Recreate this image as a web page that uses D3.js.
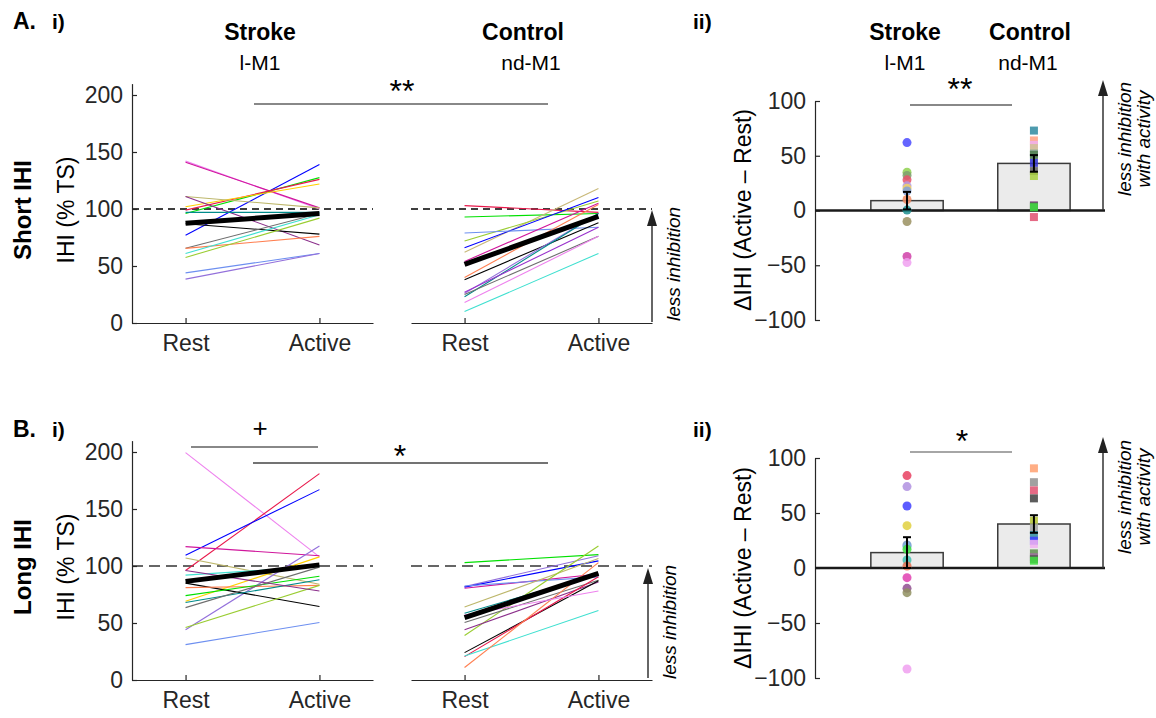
<!DOCTYPE html>
<html>
<head>
<meta charset="utf-8">
<script src="https://cdn.jsdelivr.net/npm/d3@7.9.0/dist/d3.min.js"></script>
<style>
  body { margin: 0; background: #fff; }
  svg { font-family: "Liberation Sans", Arial, Helvetica, sans-serif; }
  .axis path, .axis line { stroke: #262626; stroke-width: 1.2; }
  .axis text { fill: #262626; font-size: 23px; }
</style>
</head>
<body>
<svg id="chart" width="1156" height="718"></svg>
<script>
// colour names used by the subject lines
const C = {
  violet: '#ee82ee', magenta: '#d0169c', blue: '#0000ff', green: '#00e000',
  crimson: '#e8174a', gold: '#ffd000', khaki: '#bdb76b', purple: '#8b2f8b',
  teal: '#008b8b', black: '#000000', gray: '#6e6e6e', coral: '#ff7f50',
  turquoise: '#40e0d0', yellowgreen: '#9acd32', cornflower: '#6d8ff0',
  mediumpurple: '#9370db', tan: '#c8b878', darkorchid: '#9932cc'
};

// ---- A i) short IHI, stroke (l-M1)
const strokeAColors = ['violet', 'magenta', 'blue', 'green', 'crimson', 'gold', 'khaki', 'purple',
  'teal', 'black', 'gray', 'coral', 'turquoise', 'yellowgreen', 'cornflower', 'mediumpurple'];
const strokeARest = [142, 141, 77, 96, 99, 102, 111, 111, 97, 87, 65.5, 65.5, 61, 57.5, 44, 38.5];
const strokeAActive = [100, 101, 139, 127.5, 126, 122, 101, 68.5, 97, 78, 96, 76, 95, 92, 61, 61];
const strokeAMean = [87.5, 96];

// ---- A i) short IHI, control (nd-M1)
const controlAColors = ['crimson', 'green', 'tan', 'yellowgreen', 'blue', 'cornflower', 'magenta', 'coral',
  'black', 'mediumpurple', 'teal', 'gray', 'violet', 'turquoise', 'darkorchid'];
const controlARest = [103, 93, 62, 72, 66, 79, 54, 40, 38, 26, 23, 25, 18, 10, 27];
const controlAActive = [97, 96, 118, 107, 110, 84, 105, 104, 88, 96, 96, 76, 76, 61, 84];
const controlAMean = [51.5, 93.5];

// ---- A ii) delta IHI
const barMeansA = [9, 43];
const barSemA = [8, 7.6];
const strokeADelta = [62, 35, 32, 28, 22.5, 20.4, 17.8, 10, 0.4, -10, -42, -47.6];
const strokeADeltaColors = ['#4a4aff', '#8fd14f', '#7f9f6f', '#e8506a', '#b49be0', '#f0d060',
  '#7f9fd8', '#f08a60', '#1f8f8f', '#9a9060', '#d040a8', '#f0a0f0'];
const controlADelta = [73, 64, 60, 57, 52, 50.7, 43.5, 36, 31.5, 5, 4, 3, -6];
const controlADeltaColors = ['#2e8aa0', '#ffa080', '#f0b0f0', '#d0c090', '#80a090', '#4f7f4f',
  '#3030d0', '#606060', '#a8d040', '#a070a0', '#505050', '#40e040', '#e05070'];

// ---- B i) long IHI, stroke
const strokeBColors = ['violet', 'crimson', 'blue', 'magenta', 'khaki', 'mediumpurple', 'gold', 'turquoise',
  'black', 'coral', 'green', 'teal', 'gray', 'yellowgreen', 'purple', 'cornflower'];
const strokeBRest = [199.5, 96, 109.5, 117, 107, 44, 69, 92, 85, 81, 74, 68, 63.5, 46, 96, 31];
const strokeBActive = [108, 181, 167, 109, 84, 117.5, 108, 99.5, 64.5, 83, 91, 88, 99, 83, 78, 50.5];
const strokeBMean = [86.5, 101];

// ---- B i) long IHI, control
const controlBColors = ['green', 'mediumpurple', 'blue', 'magenta', 'cornflower', 'khaki', 'yellowgreen',
  'teal', 'gray', 'purple', 'black', 'crimson', 'turquoise', 'coral', 'violet'];
const controlBRest = [103, 82, 81.5, 80.5, 82.5, 64, 39, 58.5, 50.5, 44, 24, 20.5, 21, 11, 57];
const controlBActive = [110, 109, 104.5, 93, 90.5, 106.5, 117.5, 93, 87.5, 86, 87, 90.5, 61, 103, 78];
const controlBMean = [54.7, 93.6];

// ---- B ii) delta IHI
const barMeansB = [14, 40];
const barSemB = [14, 8];
const strokeBDelta = [84, 74, 56.4, 38.5, 21, 19.5, 17, 7.3, 1.8, -8.8, -18.5, -22.4, -91.8];
const strokeBDeltaColors = ['#e84060', '#b090e0', '#4040ff', '#e0d040', '#6a8fbf', '#80b0e0', '#40e040',
  '#40c0b0', '#e07050', '#e040b0', '#905090', '#909060', '#f0a0f0'];
const controlBDelta = [90.6, 78, 70.6, 63.3, 43, 36.8, 30, 24.8, 21.8, 13.3, 9.8, 8, 6.6];
const controlBDeltaColors = ['#ffa070', '#909090', '#e05070', '#404040', '#b0c030', '#a0a0a0', '#2f8fa0',
  '#4040ff', '#f0b0f0', '#5f8f4f', '#a070a0', '#505050', '#40e040'];

const conditions = ['Rest', 'Active'];
const groups = ['Stroke', 'Control'];
const sites = ['l-M1', 'nd-M1'];
const iTicks = [0, 50, 100, 150, 200];
const iiTicks = [-100, -50, 0, 50, 100];

const svg = d3.select('#chart');

function txt(x, y, s, opts = {}) {
  const t = svg.append('text').attr('x', x).attr('y', y).text(s)
    .attr('font-size', opts.size || 23)
    .attr('font-weight', opts.bold ? 'bold' : 'normal')
    .attr('font-style', opts.italic ? 'italic' : 'normal')
    .attr('text-anchor', opts.anchor || 'middle')
    .attr('fill', opts.fill || '#000');
  if (opts.rot) t.attr('transform', `rotate(-90,${x},${y})`).attr('dominant-baseline', 'central');
  return t;
}

function arrowUp(x, y0, y1) {
  svg.append('line').attr('x1', x).attr('x2', x).attr('y1', y0).attr('y2', y1 + 12)
    .attr('stroke', '#333').attr('stroke-width', 1.5);
  svg.append('path').attr('d', `M${x - 5},${y1 + 16} L${x},${y1} L${x + 5},${y1 + 16} Z`).attr('fill', '#222');
}

// one "i)" subplot (rest vs active lines)
function pairPlot(x0, base, colors, rest, active, mean, withYAxis, dash) {
  const x = d3.scaleLinear().domain([0.6, 2.4]).range([x0, x0 + 241]);
  const y = d3.scaleLinear().domain([0, 210]).range([base, base - 239.4]);
  const g = svg.append('g');

  g.append('line').attr('x1', x.range()[0]).attr('x2', x.range()[1])
    .attr('y1', y(100)).attr('y2', y(100))
    .attr('stroke', dash.color).attr('stroke-width', dash.width).attr('stroke-dasharray', dash.pattern);

  const line = d3.line().x((d, i) => x(i + 1)).y(d => y(d));
  colors.forEach((c, i) => {
    g.append('path').attr('d', line([rest[i], active[i]]))
      .attr('fill', 'none').attr('stroke', C[c]).attr('stroke-width', 1.1);
  });
  g.append('path').attr('d', line(mean)).attr('fill', 'none')
    .attr('stroke', '#000').attr('stroke-width', 5);

  g.append('g').attr('class', 'axis').attr('transform', `translate(0,${base})`)
    .call(d3.axisBottom(x).tickValues([1, 2]).tickFormat((d) => conditions[d - 1])
      .tickSizeInner(-5).tickSizeOuter(0).tickPadding(12));
  if (withYAxis) {
    g.append('g').attr('class', 'axis').attr('transform', `translate(${x0},0)`)
      .call(d3.axisLeft(y).tickValues(iTicks).tickSizeInner(-5).tickSizeOuter(0).tickPadding(9));
  }
}

// one "ii)" subplot (delta bars with dots)
function barPlot(y0, y1, means, sems, strokeD, strokeC, ctrlD, ctrlC) {
  const x = d3.scaleLinear().domain([0.275, 2.56]).range([815, 1105]);
  const y = d3.scaleLinear().domain([-100, 100]).range([y0, y1]);
  const g = svg.append('g');
  const bw = x(1.285) - x(1);

  g.append('g').attr('class', 'axis').attr('transform', 'translate(815,0)')
    .call(d3.axisLeft(y).tickValues(iiTicks).tickSizeInner(-5).tickSizeOuter(0).tickPadding(9));

  means.forEach((m, i) => {
    g.append('rect').attr('x', x(i + 1) - bw).attr('width', 2 * bw)
      .attr('y', y(m)).attr('height', y(0) - y(m))
      .attr('fill', '#ebebeb').attr('stroke', '#3a3a3a').attr('stroke-width', 1.5);
  });
  g.append('line').attr('x1', x.range()[0]).attr('x2', x.range()[1])
    .attr('y1', y(0)).attr('y2', y(0)).attr('stroke', '#1a1a1a').attr('stroke-width', 2.5);

  strokeD.forEach((d, i) => {
    g.append('circle').attr('cx', x(1)).attr('cy', y(d)).attr('r', 4.5)
      .attr('fill', strokeC[i]).attr('fill-opacity', 0.85);
  });
  ctrlD.forEach((d, i) => {
    g.append('rect').attr('x', x(2) - 4).attr('y', y(d) - 4).attr('width', 8).attr('height', 8)
      .attr('fill', ctrlC[i]).attr('fill-opacity', 0.85);
  });

  means.forEach((m, i) => {
    const cx = x(i + 1);
    g.append('line').attr('x1', cx).attr('x2', cx).attr('y1', y(m - sems[i])).attr('y2', y(m + sems[i]))
      .attr('stroke', '#000').attr('stroke-width', 2);
    [m - sems[i], m + sems[i]].forEach((v) => {
      g.append('line').attr('x1', cx - 4).attr('x2', cx + 4).attr('y1', y(v)).attr('y2', y(v))
        .attr('stroke', '#000').attr('stroke-width', 2);
    });
  });
}

// ---------- panel A ----------
txt(13, 29, 'A.', { size: 23, bold: true, anchor: 'start' });
txt(52, 29, 'i)', { size: 21, bold: true, anchor: 'start' });
txt(260, 40, groups[0], { bold: true });
txt(260, 70, sites[0], { size: 21 });
txt(523, 40, groups[1], { bold: true });
txt(531, 70, sites[1], { size: 21 });

pairPlot(132, 323, strokeAColors, strokeARest, strokeAActive, strokeAMean, true,
  { color: '#000', width: 1.3, pattern: '7,5' });
pairPlot(411, 323, controlAColors, controlARest, controlAActive, controlAMean, false,
  { color: '#000', width: 1.3, pattern: '7,5' });

txt(22, 210, 'Short IHI', { size: 24, bold: true, rot: true });
txt(66, 210, 'IHI (% TS)', { rot: true });
svg.append('line').attr('x1', 254).attr('x2', 548).attr('y1', 104).attr('y2', 104)
  .attr('stroke', '#888').attr('stroke-width', 2);
txt(402, 102, '**', { size: 32 });
arrowUp(652, 322, 210);
txt(673, 264, 'less inhibition', { size: 19, italic: true, rot: true });

txt(693, 29, 'ii)', { size: 21, bold: true, anchor: 'start' });
txt(905, 40, groups[0], { bold: true });
txt(905, 70, sites[0], { size: 21 });
txt(1030, 40, groups[1], { bold: true });
txt(1028, 70, sites[1], { size: 21 });
barPlot(320, 101, barMeansA, barSemA, strokeADelta, strokeADeltaColors, controlADelta, controlADeltaColors);
svg.append('line').attr('x1', 910).attr('x2', 1012).attr('y1', 105).attr('y2', 105)
  .attr('stroke', '#888').attr('stroke-width', 2);
txt(960, 100, '**', { size: 32 });
txt(743, 210, '\u0394IHI (Active \u2013 Rest)', { rot: true });
arrowUp(1103, 210, 80);
txt(1124, 139, 'less inhibition', { size: 19, italic: true, rot: true });
txt(1143, 139, 'with activity', { size: 19, italic: true, rot: true });

// ---------- panel B ----------
txt(13, 437, 'B.', { size: 23, bold: true, anchor: 'start' });
txt(52, 437, 'i)', { size: 21, bold: true, anchor: 'start' });

pairPlot(132, 680, strokeBColors, strokeBRest, strokeBActive, strokeBMean, true,
  { color: '#666', width: 2, pattern: '11,6' });
pairPlot(411, 680, controlBColors, controlBRest, controlBActive, controlBMean, false,
  { color: '#666', width: 2, pattern: '11,6' });

txt(22, 567, 'Long IHI', { size: 24, bold: true, rot: true });
txt(66, 567, 'IHI (% TS)', { rot: true });
svg.append('line').attr('x1', 191).attr('x2', 318).attr('y1', 447).attr('y2', 447)
  .attr('stroke', '#888').attr('stroke-width', 2);
txt(260, 437, '+', { size: 26 });
svg.append('line').attr('x1', 253).attr('x2', 548).attr('y1', 463).attr('y2', 463)
  .attr('stroke', '#444').attr('stroke-width', 1.5);
txt(400, 467, '*', { size: 32 });
arrowUp(648, 678, 568);
txt(669, 622, 'less inhibition', { size: 19, italic: true, rot: true });

txt(693, 437, 'ii)', { size: 21, bold: true, anchor: 'start' });
barPlot(678, 458, barMeansB, barSemB, strokeBDelta, strokeBDeltaColors, controlBDelta, controlBDeltaColors);
svg.append('line').attr('x1', 910).attr('x2', 1012).attr('y1', 452).attr('y2', 452)
  .attr('stroke', '#888').attr('stroke-width', 1.5);
txt(962, 452, '*', { size: 32 });
txt(743, 568, '\u0394IHI (Active \u2013 Rest)', { rot: true });
arrowUp(1103, 568, 437);
txt(1124, 497, 'less inhibition', { size: 19, italic: true, rot: true });
txt(1143, 497, 'with activity', { size: 19, italic: true, rot: true });
</script>
</body>
</html>
